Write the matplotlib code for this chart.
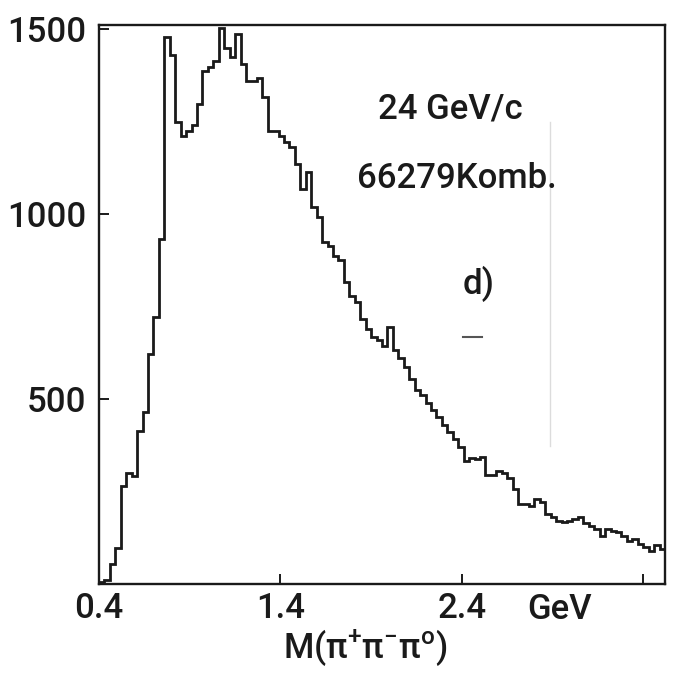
import numpy as np
import matplotlib
matplotlib.use("Agg")
import matplotlib.pyplot as plt
from matplotlib import font_manager

# ---------------- data ----------------
bin_start = 0.40
bin_width = 0.03
counts = [
    5, 12, 54, 97, 265, 300, 291, 412, 465, 622, 722,
    932, 1477, 1428, 1248, 1211, 1225, 1240, 1297, 1385, 1396, 1412, 1502,
    1448, 1423, 1486, 1405, 1360, 1360, 1367, 1315,
    1225, 1225, 1210, 1194, 1180, 1135, 1067, 1113, 1018, 991, 923, 914,
    887, 874, 815, 779, 761, 716, 689, 667, 658, 644, 694,
    632, 610, 585, 555, 525, 510, 490, 470, 450, 430, 410, 392, 370,
    333, 340, 338, 342, 295, 295, 306, 300, 285, 257, 216, 216, 211, 230,
    221, 189, 180, 171, 167, 170, 176, 180, 165, 158, 149, 131, 149, 144,
    140, 131, 117, 122, 108, 99, 90, 105, 95,
]
x_ticks = [0.4, 1.4, 2.4, 3.4]
x_tick_labels = ["0.4", "1.4", "2.4", ""]
y_ticks = [500, 1000, 1500]
y_tick_labels = ["500", "1000", "1500"]

# ---------------- font ----------------
names = {f.name for f in font_manager.fontManager.ttflist}
family = "Roboto"
for cand in ["Liberation Sans Narrow", "Roboto"]:
    if cand in names:
        family = cand
        break
plt.rcParams["font.family"] = [family, "DejaVu Sans"]
plt.rcParams["font.weight"] = "medium"
fs = 26 if family == "Liberation Sans Narrow" else 25
ink = "#1a1a1a"

# ---------------- figure ----------------
fig = plt.figure(figsize=(6.79, 6.76), dpi=100)
ax = fig.add_axes([0.1458, 0.1361, 0.8336, 0.8269])

edges = bin_start + bin_width * np.arange(len(counts) + 1)
ax.stairs(counts, edges, baseline=0, color=ink, lw=2.0)

ax.set_xlim(0.4, 3.52)
ax.set_ylim(0, 1510)

ax.set_xticks(x_ticks)
ax.set_xticklabels(x_tick_labels)
ax.set_yticks(y_ticks)
ax.set_yticklabels(y_tick_labels)
ax.tick_params(direction="in", length=7, width=1.4, labelsize=fs, color=ink,
               labelcolor=ink)
ax.tick_params(axis="y", pad=9)
ax.tick_params(axis="x", pad=6)
for s in ax.spines.values():
    s.set_linewidth(1.7)
    s.set_color(ink)

ax.text(2.94, -0.046, "GeV", transform=ax.get_xaxis_transform(),
        ha="center", va="center", fontsize=fs, color=ink)
fig.text(365 / 679, 1 - 648 / 676, r"M($\mathregular{\pi^{+}\pi^{-}\pi^{o}}$)",
         ha="center", va="center", fontsize=fs, color=ink)

ax.text(1.937, 1284, "24 GeV/c", ha="left", va="center", fontsize=fs, color=ink)
ax.text(1.821, 1095, "66279Komb.", ha="left", va="center", fontsize=fs, color=ink)
ax.text(2.405, 811, "d)", ha="left", va="center", fontsize=fs, color=ink)

# scan marks
ax.plot([2.885, 2.885], [373, 1249], color="#dcdcdc", lw=1.0)
ax.plot([2.405, 2.51], [668, 668], color="#555555", lw=1.5)

fig.savefig("out.png", dpi=100, facecolor="white")
